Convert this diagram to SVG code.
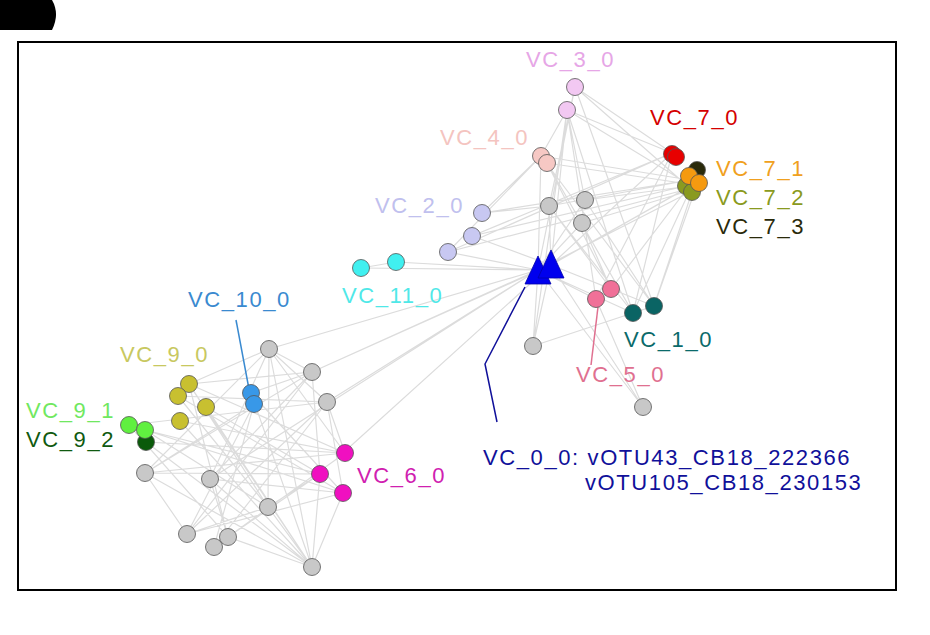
<svg xmlns="http://www.w3.org/2000/svg" width="930" height="635" viewBox="0 0 930 635">
<style>
.e{stroke:#dcdcdc;stroke-width:1.2;fill:none}
.n{stroke:#555;stroke-width:0.8}
.g{fill:#c8c8c8}
text{font-family:"Liberation Sans",Arial,sans-serif;font-size:22px;letter-spacing:1.6px}
</style>
<rect width="930" height="635" fill="#fff"/>
<path d="M0,0 H52 Q60,14 52,30 H0 Z" fill="#000"/>
<rect x="18" y="42" width="878" height="548" fill="none" stroke="#000" stroke-width="2"/>
<g id="connectors">
<g class="e">
<path d="M575,87 L672,153 M575,87 L692,190 M575,87 L549,206 M575,87 L538,270 M567,110 L672,153 M567,110 L690,185 M567,110 L541,156 M567,110 L533,346 M567,110 L585,200 M567,110 L551,265 M541,156 L690,180 M547,163 L695,185 M541,156 L448,252 M541,156 L538,270 M547,163 L611,289 M482,213 L690,180 M482,213 L549,206 M472,236 L690,185 M448,252 L672,153 M448,252 L538,270 M472,236 L551,265 M482,213 L541,156 M549,206 L690,180 M585,200 L690,186 M582,223 L692,190 M549,206 L551,265 M585,200 L538,270 M551,265 L672,153 M551,265 L692,185 M538,270 L690,192 M551,265 L698,182 M538,270 L633,313 M551,265 L654,306 M538,270 L596,299 M551,265 L611,289 M633,313 L690,190 M654,306 L692,192 M611,289 L690,185 M596,299 L672,153 M633,313 L672,153 M654,306 L698,182 M533,346 L538,270 M533,346 L551,265 M533,346 L654,306 M643,407 L538,270 M643,407 L551,265 M643,407 L596,299 M611,289 L549,206 M596,299 L567,110 M633,313 L567,110 M654,306 L575,87 M582,223 L538,270 M582,223 L611,289 M549,206 L633,313 M585,200 L654,306 M472,236 L672,153 M448,252 L692,188 M541,156 L654,306 M547,163 L633,313 M538,270 L312,372 M538,270 L327,402 M551,265 L343,453 M538,270 L396,262 M538,270 L361,268 M538,270 L269,349 M538,270 L210,479 M551,265 L312,372"/>
<path d="M269,349 L312,372 M269,349 L327,402 M269,349 L189,384 M269,349 L145,473 M269,349 L268,507 M269,349 L312,567 M269,349 L210,479 M269,349 L345,453 M312,372 L189,384 M312,372 L145,473 M312,372 L210,479 M312,372 L320,474 M312,372 L187,534 M312,372 L251,393 M327,402 L129,425 M327,402 L187,534 M327,402 L343,493 M327,402 L214,547 M327,402 L178,396 M189,384 L345,453 M189,384 L268,507 M189,384 L312,567 M178,396 L343,493 M206,407 L320,474 M180,421 L345,453 M180,421 L312,567 M145,430 L320,474 M145,430 L343,493 M145,430 L268,507 M146,442 L345,453 M146,442 L312,567 M129,425 L228,537 M145,473 L345,453 M145,473 L320,474 M145,473 L187,534 M145,473 L312,567 M210,479 L343,493 M210,479 L312,567 M210,479 L228,537 M268,507 L320,474 M268,507 L187,534 M268,507 L312,567 M187,534 L343,493 M214,547 L345,453 M228,537 L320,474 M228,537 L312,567 M251,393 L312,567 M254,404 L214,547 M254,404 L145,473 M251,393 L343,493 M254,404 L187,534 M206,407 L312,567 M178,396 L268,507 M189,384 L228,537 M320,474 L312,567 M343,493 L312,567 M345,453 L327,402 M345,453 L269,349 M361,268 L396,262"/>
</g>
<polyline points="525,287 485,364 497,422" fill="none" stroke="#10109a" stroke-width="1.5"/>
<line x1="598" y1="307" x2="591" y2="365" stroke="#e07090" stroke-width="1.5"/>
<line x1="236" y1="320" x2="249" y2="389" stroke="#3a8ad0" stroke-width="1.5"/>
</g>
<g id="grey-nodes" class="n g">
<circle cx="549" cy="206" r="8.5"/><circle cx="585" cy="200" r="8.5"/><circle cx="582" cy="223" r="8.5"/><circle cx="533" cy="346" r="8.5"/><circle cx="643" cy="407" r="8.5"/>
<circle cx="269" cy="349" r="8.5"/><circle cx="312" cy="372" r="8.5"/><circle cx="327" cy="402" r="8.5"/><circle cx="145" cy="473" r="8.5"/><circle cx="210" cy="479" r="8.5"/><circle cx="268" cy="507" r="8.5"/><circle cx="187" cy="534" r="8.5"/><circle cx="214" cy="547" r="8.5"/><circle cx="228" cy="537" r="8.5"/><circle cx="312" cy="567" r="8.5"/>
</g>
<g id="VC_3_0" class="n" fill="#f2c8f2"><circle cx="575" cy="87" r="8.5"/><circle cx="567" cy="110" r="8.5"/><text x="526" y="67" fill="#e6a6e6" stroke="none">VC_3_0</text></g>
<g id="VC_4_0" class="n" fill="#f6c8c4"><circle cx="541" cy="156" r="8.5"/><circle cx="547" cy="163" r="8.5"/><text x="440" y="145" fill="#f4c4c0" stroke="none">VC_4_0</text></g>
<g id="VC_2_0" class="n" fill="#c8c8f2"><circle cx="482" cy="213" r="8.5"/><circle cx="472" cy="236" r="8.5"/><circle cx="448" cy="252" r="8.5"/><text x="375" y="213" fill="#c0c0ee" stroke="none">VC_2_0</text></g>
<g id="VC_11_0" class="n" fill="#40f0f0"><circle cx="361" cy="268" r="8.5"/><circle cx="396" cy="262" r="8.5"/><text x="342" y="303" fill="#50e8e8" stroke="none">VC_11_0</text></g>
<g id="VC_7_3" class="n" fill="#2a2a0a"><circle cx="697" cy="170" r="8.5"/><text x="716" y="234" fill="#2a2a0a" stroke="none">VC_7_3</text></g>
<g id="VC_7_2" class="n" fill="#8a9a20"><circle cx="686" cy="186" r="8.5"/><circle cx="692" cy="192" r="8.5"/><text x="716" y="205" fill="#8a9a20" stroke="none">VC_7_2</text></g>
<g id="VC_7_1" class="n" fill="#f59a10"><circle cx="689" cy="176" r="8.5"/><circle cx="699" cy="183" r="8.5"/><text x="716" y="176" fill="#f0a020" stroke="none">VC_7_1</text></g>
<g id="VC_7_0" class="n" fill="#e80000"><circle cx="672" cy="154" r="8.5"/><circle cx="676" cy="157" r="8.5"/><text x="650" y="125" fill="#d40000" stroke="none">VC_7_0</text></g>
<g id="VC_5_0" class="n" fill="#f07098"><circle cx="611" cy="289" r="8.5"/><circle cx="596" cy="299" r="8.5"/><text x="576" y="382" fill="#e07090" stroke="none">VC_5_0</text></g>
<g id="VC_1_0" class="n" fill="#0a6464"><circle cx="633" cy="313" r="8.5"/><circle cx="654" cy="306" r="8.5"/><text x="624" y="347" fill="#0a6a6a" stroke="none">VC_1_0</text></g>
<g id="VC_0_0" fill="#0000ee" stroke="#0000aa" stroke-width="0.8">
<path d="M538,256 L551,284 L525,284 Z"/><path d="M551,250 L564,278 L538,278 Z"/>
<text x="483" y="465" fill="#10109a" stroke="none">VC_0_0: vOTU43_CB18_222366</text>
<text x="585" y="490" fill="#10109a" stroke="none">vOTU105_CB18_230153</text>
</g>
<g id="VC_9_0" class="n" fill="#c8c030"><circle cx="189" cy="384" r="8.5"/><circle cx="178" cy="396" r="8.5"/><circle cx="206" cy="407" r="8.5"/><circle cx="180" cy="421" r="8.5"/><text x="120" y="362" fill="#c8c860" stroke="none">VC_9_0</text></g>
<g id="VC_9_2" class="n" fill="#0a5a0a"><circle cx="146" cy="442" r="8.5"/><text x="26" y="447" fill="#105a10" stroke="none">VC_9_2</text></g>
<g id="VC_9_1" class="n" fill="#60f040"><circle cx="129" cy="425" r="8.5"/><circle cx="145" cy="430" r="8.5"/><text x="26" y="418" fill="#70e860" stroke="none">VC_9_1</text></g>
<g id="VC_10_0" class="n" fill="#3898e8"><circle cx="251" cy="393" r="8.5"/><circle cx="254" cy="404" r="8.5"/><text x="188" y="307" fill="#3a8ad0" stroke="none">VC_10_0</text></g>
<g id="VC_6_0" class="n" fill="#f010c0"><circle cx="345" cy="453" r="8.5"/><circle cx="320" cy="474" r="8.5"/><circle cx="343" cy="493" r="8.5"/><text x="357" y="483" fill="#d020b0" stroke="none">VC_6_0</text></g>
</svg>
